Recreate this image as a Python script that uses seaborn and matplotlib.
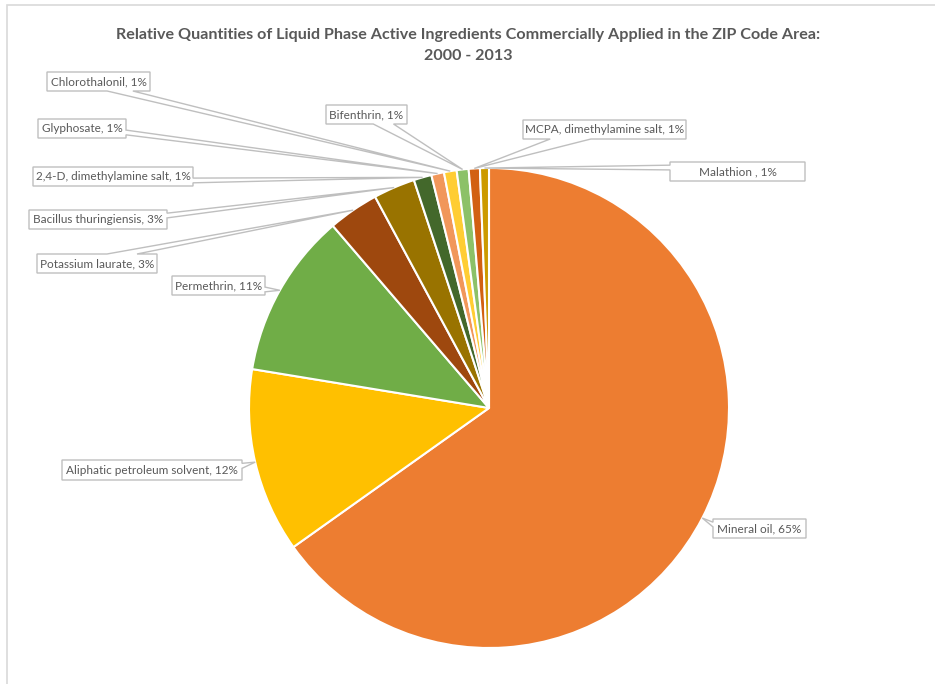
import matplotlib
matplotlib.use("Agg")
import matplotlib.pyplot as plt
from matplotlib.patches import Polygon, Rectangle
import numpy as np
import seaborn as sns

# Active ingredients, in drawing order (clockwise from 12 o'clock)
ingredients = [
    "Mineral oil", "Aliphatic petroleum solvent", "Permethrin", "Potassium laurate",
    "Bacillus thuringiensis", "2,4-D, dimethylamine salt", "Glyphosate", "Chlorothalonil",
    "Bifenthrin", "MCPA, dimethylamine salt", "Malathion ",
]
# Relative quantity applied (share of total, %)
quantities = [65.0, 12.4, 11.1, 3.4, 2.8, 1.2, 0.85, 0.85, 0.8, 0.75, 0.6]
colors = ["#ED7D31", "#FFC000", "#70AD47", "#9E480E", "#997300", "#43682B",
          "#F1975A", "#FFCD33", "#8CC168", "#D26012", "#CC9A00"]

# Callout boxes (left, top, right, bottom) in figure pixels, y measured downwards
label_boxes = [
    (713, 519, 806, 538), (62, 460, 242, 480), (172, 276, 265, 295), (37, 254, 157, 273),
    (29, 210, 167, 229), (33, 167, 193, 186), (38, 119, 126, 138), (47, 72, 150, 91),
    (326, 105, 407, 124), (523, 120, 686, 139), (670, 162, 805, 181),
]

W, H = 935, 684
CX, CY, R = 489, 408, 240
TEXT = "#595959"
EDGE = "#BFBFBF"

sns.set_theme(style="white")
plt.rcParams["font.family"] = ["Lato", "DejaVu Sans"]

fig = plt.figure(figsize=(W / 100, H / 100), dpi=100)
ax = fig.add_axes([0, 0, 1, 1])

palette = sns.color_palette(colors)
wedges, _ = ax.pie(quantities, colors=palette, startangle=90, counterclock=False,
                   center=(CX, H - CY), radius=R,
                   wedgeprops=dict(edgecolor="white", linewidth=1.5))
ax.set_xlim(0, W)
ax.set_ylim(0, H)
ax.set_aspect("equal")
ax.axis("off")

# chart-area frame
ax.add_patch(Rectangle((7, -10), W + 20, H - 5 + 10, fill=False, edgecolor="#D9D9D9",
                       linewidth=1.2, zorder=0))


def callout_path(box, tip):
    """Rectangular callout with a wedge pointer (pixel coords, y down)."""
    l, t, r, b = box
    w, h = r - l, b - t
    hc, vc = (l + r) / 2, (t + b) / 2
    xp, yp = tip
    dxp, dyp = xp - hc, yp - vc
    dq = dxp * h / w
    dz = abs(dyp) - abs(dq)
    x1 = l + w * (7 if dxp > 0 else 2) / 12
    x2 = l + w * (10 if dxp > 0 else 5) / 12
    y1 = t + h * (7 if dyp > 0 else 2) / 12
    y2 = t + h * (10 if dyp > 0 else 5) / 12
    pts = [(l, t), (x1, t)]
    if dz > 0 and dyp < 0:
        pts.append((xp, yp))
    pts += [(x2, t), (r, t), (r, y1)]
    if dz <= 0 and dxp > 0:
        pts.append((xp, yp))
    pts += [(r, y2), (r, b), (x2, b)]
    if dz > 0 and dyp > 0:
        pts.append((xp, yp))
    pts += [(x1, b), (l, b), (l, y2)]
    if dz <= 0 and dxp < 0:
        pts.append((xp, yp))
    pts.append((l, y1))
    return [(x, H - y) for x, y in pts]


total = sum(quantities)
for wedge, name, q, box in zip(wedges, ingredients, quantities, label_boxes):
    mid = np.deg2rad((wedge.theta1 + wedge.theta2) / 2)
    tip = (CX + R * np.cos(mid), CY - R * np.sin(mid))
    ax.add_patch(Polygon(callout_path(box, tip), closed=True, facecolor="white",
                         edgecolor=EDGE, linewidth=1.0, zorder=3))
    l, t, r, b = box
    ax.text((l + r) / 2, H - (t + b) / 2, f"{name}, {q / total * 100:.0f}%",
            ha="center", va="center", fontsize=8.5, color=TEXT, zorder=4)

ax.text(W / 2 + 1, H - 35, "Relative Quantities of Liquid Phase Active Ingredients Commercially Applied in the ZIP Code Area:",
        ha="center", va="center", fontsize=11.6, fontweight="bold", color=TEXT)
ax.text(W / 2 + 1, H - 56, "2000 - 2013", ha="center", va="center", fontsize=11.6,
        fontweight="bold", color=TEXT)

fig.savefig("out.png", dpi=100)
